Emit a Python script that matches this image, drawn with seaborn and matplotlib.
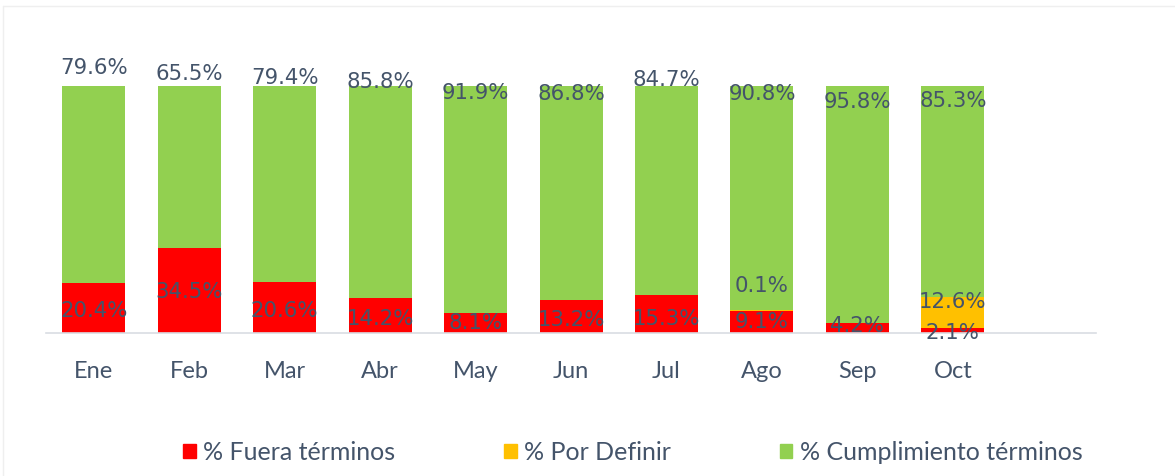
import numpy as np
import pandas as pd
import seaborn as sns
import matplotlib.pyplot as plt
from matplotlib.patches import Patch
from matplotlib.lines import Line2D

# Datos mensuales (%)
meses = ["Ene", "Feb", "Mar", "Abr", "May", "Jun", "Jul", "Ago", "Sep", "Oct"]
fuera = [20.4, 34.5, 20.6, 14.2, 8.1, 13.2, 15.3, 9.1, 4.2, 2.1]
por_definir = [0, 0, 0, 0, 0, 0, 0, 0.1, 0, 12.6]
cumplimiento = [79.6, 65.5, 79.4, 85.8, 91.9, 86.8, 84.7, 90.8, 95.8, 85.3]

# Posicion vertical de las etiquetas (como en el original de Excel)
pos_fuera = [8.9, 16.6, 8.9, 5.7, 4.0, 5.3, 5.7, 4.5, 2.8, 0.0]
pos_definir = [None, None, None, None, None, None, None, 19.0, None, 12.6]
pos_cumpl = [107.3, 104.9, 103.2, 101.6, 97.2, 96.8, 102.4, 96.8, 93.5, 93.9]

ROJO = "#FF0000"
AMARILLO = "#FFC000"
VERDE = "#92D050"
TEXTO = "#44546A"

df = pd.DataFrame({"mes": meses, "fuera": fuera, "definir": por_definir, "cumpl": cumplimiento})
df["base_cumpl"] = df["fuera"] + df["definir"]

sns.set_style("white")
plt.rcParams["font.family"] = ["Lato", "DejaVu Sans"]

fig = plt.figure(figsize=(11.75, 4.76), dpi=100)
ax = fig.add_axes([46 / 1175, 143 / 476, 1050 / 1175, 271.7 / 476])

sns.barplot(data=df, x="mes", y="fuera", color=ROJO, width=0.66, ax=ax, saturation=1,
            linewidth=0)
sns.barplot(data=df, x="mes", y="definir", bottom=df["fuera"], color=AMARILLO, width=0.66,
            ax=ax, saturation=1, linewidth=0)
sns.barplot(data=df, x="mes", y="cumpl", bottom=df["base_cumpl"], color=VERDE, width=0.66,
            ax=ax, saturation=1, linewidth=0)

# Etiquetas
lab = dict(ha="center", va="center", color=TEXTO, fontsize=15.3, family="DejaVu Sans")
for i in range(len(meses)):
    ax.text(i, pos_fuera[i], f"{fuera[i]:.1f}%", **lab)
    if pos_definir[i] is not None:
        ax.text(i, pos_definir[i], f"{por_definir[i]:.1f}%", **lab)
    ax.text(i, pos_cumpl[i], f"{cumplimiento[i]:.1f}%", **lab)

ax.set_xlim(-0.5, 10.5)
ax.set_ylim(0, 110)
ax.set_xlabel("")
ax.set_ylabel("")
ax.set_yticks([])
for s in ["top", "left", "right"]:
    ax.spines[s].set_visible(False)
ax.spines["bottom"].set_color("#D9DDE3")
ax.spines["bottom"].set_linewidth(1.2)
ax.tick_params(axis="x", length=0, pad=20, labelsize=17, labelcolor=TEXTO)

# Leyenda
handles = [Patch(color=ROJO, label="% Fuera términos"),
           Patch(color=AMARILLO, label="% Por Definir"),
           Patch(color=VERDE, label="% Cumplimiento términos")]
leg = fig.legend(handles=handles, loc="center", bbox_to_anchor=(633 / 1175, 1 - 452 / 476),
                 ncol=3, frameon=False, fontsize=18, handlelength=0.5, handleheight=0.5,
                 handletextpad=0.3, columnspacing=4.35, labelcolor=TEXTO)

# Marco tenue del grafico
fig.add_artist(Line2D([3 / 1175, 1], [1 - 6 / 476, 1 - 6 / 476], color="#EFEFEF", lw=1))
fig.add_artist(Line2D([3 / 1175, 3 / 1175], [0, 1 - 6 / 476], color="#EFEFEF", lw=1))

fig.savefig("out.png", dpi=100)
